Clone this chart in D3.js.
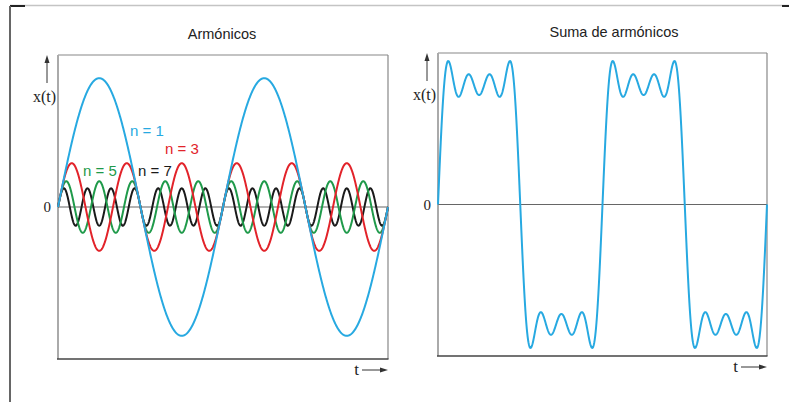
<!DOCTYPE html>
<html>
<head>
<meta charset="utf-8">
<script src="https://cdn.jsdelivr.net/npm/d3@7"></script>
<style>
  html, body { margin: 0; padding: 0; background: #fff; }
  svg { display: block; }
</style>
</head>
<body>
<svg id="chart" width="789" height="402"></svg>
<script>
// Odd harmonics of a square wave and their relative amplitudes
const harmonics = [1, 3, 5, 7];
const amplitudes = [1, 0.34, 0.2, 0.145];
const harmonicColors = ["#27a9e1", "#e2232a", "#1f9a4a", "#1a1a1a"];
const harmonicLabels = ["n = 1", "n = 3", "n = 5", "n = 7"];
// Time span shown, in periods of the fundamental
const tDomain = [0, 2];
const panelTitles = ["Armónicos", "Suma de armónicos"];
const zeroTick = ["0"];

const svg = d3.select("#chart");
const samples = d3.range(0, 1201).map(i => tDomain[0] + (tDomain[1] - tDomain[0]) * i / 1200);
const wave = (n, a) => t => a * Math.sin(2 * Math.PI * n * t);

// Outer frame
svg.append("line").attr("x1", 10).attr("x2", 789).attr("y1", 5.5).attr("y2", 5.5)
  .attr("stroke", "#c4c4c4").attr("stroke-width", 1.5);
svg.append("line").attr("x1", 10).attr("x2", 25).attr("y1", 6).attr("y2", 6)
  .attr("stroke", "#222").attr("stroke-width", 2);
svg.append("line").attr("x1", 782).attr("x2", 789).attr("y1", 6).attr("y2", 6)
  .attr("stroke", "#222").attr("stroke-width", 2);
svg.append("line").attr("x1", 10).attr("x2", 10).attr("y1", 6).attr("y2", 402)
  .attr("stroke", "#666").attr("stroke-width", 2);

function panel(opts) {
  const { left, right, top, bottom, yMax, title, titleX, titleY } = opts;
  const x = d3.scaleLinear().domain(tDomain).range([left, right]);
  const y = d3.scaleLinear().domain([-yMax, yMax]).range([bottom, top]);
  const g = svg.append("g");

  // plot box
  g.append("line").attr("x1", left).attr("x2", right).attr("y1", top).attr("y2", top)
    .attr("stroke", "#888").attr("stroke-width", 1.2);
  g.append("line").attr("x1", right).attr("x2", right).attr("y1", top).attr("y2", bottom)
    .attr("stroke", "#888").attr("stroke-width", 1.2);
  g.append("line").attr("x1", left).attr("x2", left).attr("y1", top).attr("y2", bottom)
    .attr("stroke", "#aaa").attr("stroke-width", 2);
  g.append("line").attr("x1", left - 1).attr("x2", right + 0.5).attr("y1", bottom).attr("y2", bottom)
    .attr("stroke", "#444").attr("stroke-width", 1.5);

  // zero axis
  g.append("line").attr("x1", left).attr("x2", right).attr("y1", y(0)).attr("y2", y(0))
    .attr("stroke", "#666").attr("stroke-width", 1.2);
  g.append("text").attr("x", left - 7).attr("y", y(0)).attr("dy", "0.35em")
    .attr("text-anchor", "end").attr("font-family", "Liberation Serif, serif")
    .attr("font-size", 15).attr("fill", "#222").text(zeroTick[0]);

  // y axis label with arrow
  const ax = left - 11;
  g.append("line").attr("x1", ax).attr("x2", ax).attr("y1", top + 28).attr("y2", top + 6)
    .attr("stroke", "#333").attr("stroke-width", 1);
  g.append("path").attr("d", `M${ax - 2.5},${top + 8} L${ax},${top} L${ax + 2.5},${top + 8} Z`)
    .attr("fill", "#333");
  g.append("text").attr("x", left - 2).attr("y", top + 47).attr("text-anchor", "end")
    .attr("font-family", "Liberation Serif, serif").attr("font-size", 16).attr("fill", "#222")
    .text("x(t)");

  // t label with arrow
  g.append("text").attr("x", right - 29).attr("y", bottom + 16).attr("text-anchor", "end")
    .attr("font-family", "Liberation Serif, serif").attr("font-size", 17).attr("fill", "#222")
    .text("t");
  g.append("line").attr("x1", right - 26).attr("x2", right - 6).attr("y1", bottom + 11).attr("y2", bottom + 11)
    .attr("stroke", "#333").attr("stroke-width", 1);
  g.append("path").attr("d", `M${right - 8},${bottom + 8.5} L${right},${bottom + 11} L${right - 8},${bottom + 13.5} Z`)
    .attr("fill", "#333");

  // title
  g.append("text").attr("x", titleX).attr("y", titleY).attr("text-anchor", "middle")
    .attr("font-family", "Liberation Sans, Arial, sans-serif").attr("font-size", 14.5)
    .attr("fill", "#222").text(title);

  return { g, x, y };
}

// Left: each harmonic on its own
const L = panel({ left: 58, right: 388, top: 55, bottom: 359, yMax: 1.18,
  title: panelTitles[0], titleX: 222, titleY: 39 });
const drawOrder = [3, 2, 1, 0];
drawOrder.forEach(i => {
  const f = wave(harmonics[i], amplitudes[i]);
  const line = d3.line().x(t => L.x(t)).y(t => L.y(f(t)));
  L.g.append("path").datum(samples).attr("d", line).attr("fill", "none")
    .attr("stroke", harmonicColors[i]).attr("stroke-width", 2);
});
// harmonic labels
const labelPos = [[130, 136], [165, 154], [83, 176], [138, 176]];
harmonicLabels.forEach((lab, i) => {
  L.g.append("text").attr("x", labelPos[i][0]).attr("y", labelPos[i][1])
    .attr("font-family", "Liberation Sans, Arial, sans-serif").attr("font-size", 15)
    .attr("fill", harmonicColors[i]).text(lab);
});

// Right: sum of the harmonics
const R = panel({ left: 438, right: 767, top: 53, bottom: 356, yMax: 0.99,
  title: panelTitles[1], titleX: 614, titleY: 37 });
const sumFn = t => d3.sum(harmonics, (n, i) => wave(n, amplitudes[i])(t));
const sumLine = d3.line().x(t => R.x(t)).y(t => R.y(sumFn(t)));
R.g.append("path").datum(samples).attr("d", sumLine).attr("fill", "none")
  .attr("stroke", harmonicColors[0]).attr("stroke-width", 2);
</script>
</body>
</html>
